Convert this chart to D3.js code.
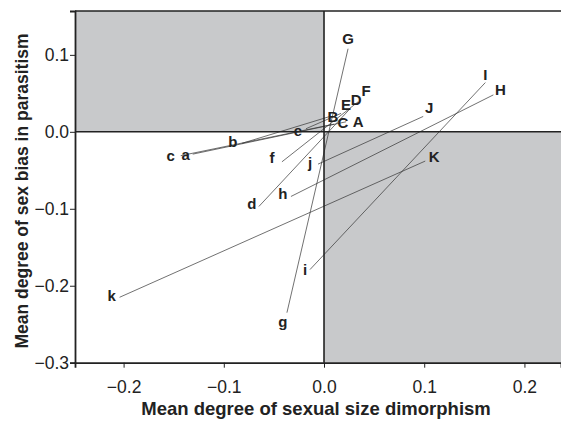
<!DOCTYPE html>
<html>
<head>
<meta charset="utf-8">
<script src="https://cdn.jsdelivr.net/npm/d3@7"></script>
<style>
  body { margin: 0; background: #fff; }
  svg { display: block; font-family: "Liberation Sans", Arial, sans-serif; }
</style>
</head>
<body>
<svg width="561" height="422"></svg>
<script>
// pairs: lowercase label -> uppercase label, x = size dimorphism, y = sex bias
const lowerNames = ["a", "b", "c", "d", "e", "f", "g", "h", "i", "j", "k"]
const lowerX = [-0.131, -0.082, -0.143, -0.065, -0.018, -0.042, -0.037, -0.033, -0.014, -0.006, -0.204]
const lowerY = [-0.029, -0.015, -0.031, -0.097, 0.004, -0.039, -0.235, -0.084, -0.179, -0.042, -0.215]

const upperNames = ["A", "B", "C", "D", "E", "F", "G", "H", "I", "J", "K"]
const upperX = [0.022, 0.006, 0.010, 0.026, 0.017, 0.034, 0.024, 0.169, 0.161, 0.099, 0.101]
const upperY = [0.013, 0.020, 0.010, 0.030, 0.024, 0.039, 0.108, 0.048, 0.064, 0.020, -0.038]

const xTicks = [-0.2, -0.1, 0.0, 0.1, 0.2]
const yTicks = [-0.3, -0.2, -0.1, 0.0, 0.1]

// label nudges (pixels) so text sits beside the line end
const nudge = {
  a: [-7, 0], b: [-9, -2], c: [-10, 0], d: [-7, -3], e: [-8, 2], f: [-10, -4],
  g: [-4, 9], h: [-8, -3], i: [-5, 0], j: [-8, -2], k: [-8, -2],
  A: [12, 0], B: [3, 0], C: [9, -2], D: [6, -9], E: [5, -9], F: [8, -11],
  G: [0, -10], H: [7, -5], I: [0, -8], J: [6, -9], K: [9, -5]
}

const svg = d3.select("svg")
const ink = "#222"

const x = d3.scaleLinear().domain([-0.2485, 0.2365]).range([75, 561])
const y = d3.scaleLinear().domain([-0.3, 0.157]).range([362.7, 11])

// shaded quadrants
svg.append("rect")
  .attr("x", x(-0.2485)).attr("y", y(0.157))
  .attr("width", x(0) - x(-0.2485)).attr("height", y(0) - y(0.157))
  .attr("fill", "#c8c9cb")
svg.append("rect")
  .attr("x", x(0)).attr("y", y(0))
  .attr("width", x(0.2365) - x(0)).attr("height", y(-0.3) - y(0))
  .attr("fill", "#c8c9cb")

// connecting lines
svg.append("g").selectAll("line")
  .data(d3.range(lowerNames.length))
  .enter().append("line")
    .attr("x1", i => x(lowerX[i])).attr("y1", i => y(lowerY[i]))
    .attr("x2", i => x(upperX[i])).attr("y2", i => y(upperY[i]))
    .attr("stroke", "#333").attr("stroke-width", 0.7)

// zero lines and frame
const frame = svg.append("g").attr("stroke", ink).attr("stroke-width", 1.6)
frame.append("line").attr("x1", x(0)).attr("x2", x(0)).attr("y1", y(0.157)).attr("y2", y(-0.3))
frame.append("line").attr("x1", x(-0.2485)).attr("x2", x(0.2365)).attr("y1", y(0)).attr("y2", y(0))
frame.append("line").attr("x1", x(-0.2485)).attr("x2", x(0.2365)).attr("y1", y(0.157)).attr("y2", y(0.157))

// axes
const xAxis = svg.append("g")
  .attr("transform", `translate(0,${y(-0.3)})`)
  .call(d3.axisBottom(x).tickValues(xTicks).tickFormat(d3.format(".1f")).tickSizeOuter(0).tickSize(5).tickPadding(13))
const yAxis = svg.append("g")
  .attr("transform", `translate(${x(-0.2485)},0)`)
  .call(d3.axisLeft(y).tickValues(yTicks).tickFormat(d3.format(".1f")).tickSizeOuter(0).tickSize(5).tickPadding(1))

for (const ax of [xAxis, yAxis]) {
  ax.select(".domain").attr("stroke", ink).attr("stroke-width", 1.8)
  ax.selectAll(".tick line").attr("stroke", ink).attr("stroke-width", 1)
  ax.selectAll(".tick text").attr("fill", ink).attr("font-size", 17.5)
    .attr("font-family", "Liberation Sans, Arial, sans-serif")
}

// point labels
const labels = svg.append("g")
  .attr("font-weight", "bold").attr("font-size", 15).attr("fill", ink)
  .attr("text-anchor", "middle").attr("dominant-baseline", "central")

labels.selectAll("text.lo")
  .data(d3.range(lowerNames.length))
  .enter().append("text").attr("class", "lo")
    .attr("x", i => x(lowerX[i]) + nudge[lowerNames[i]][0])
    .attr("y", i => y(lowerY[i]) + nudge[lowerNames[i]][1])
    .text(i => lowerNames[i])

labels.selectAll("text.up")
  .data(d3.range(upperNames.length))
  .enter().append("text").attr("class", "up")
    .attr("x", i => x(upperX[i]) + nudge[upperNames[i]][0])
    .attr("y", i => y(upperY[i]) + nudge[upperNames[i]][1])
    .text(i => upperNames[i])

// axis titles
svg.append("text")
  .attr("x", 316).attr("y", 415)
  .attr("text-anchor", "middle").attr("font-weight", "bold").attr("font-size", 18.5).attr("fill", ink)
  .text("Mean degree of sexual size dimorphism")
svg.append("text")
  .attr("transform", "translate(28,191) rotate(-90)")
  .attr("text-anchor", "middle").attr("font-weight", "bold").attr("font-size", 17.5).attr("fill", ink)
  .text("Mean degree of sex bias in parasitism")
</script>
</body>
</html>
